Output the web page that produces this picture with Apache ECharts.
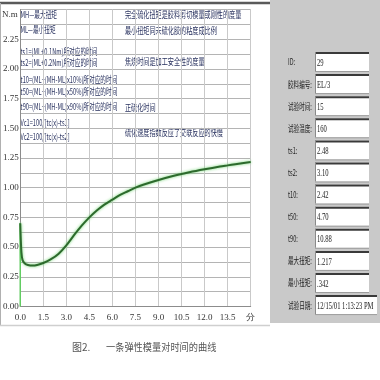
<!DOCTYPE html>
<html><head><meta charset="utf-8">
<script src="https://cdn.jsdelivr.net/npm/echarts@6/dist/echarts.min.js"></script>
<style>html,body{margin:0;padding:0;background:#fff}#c{width:380px;height:380px}</style>
</head><body><div id="c"></div>
<script>
// ---- data ----
const startT = [0, 0];
const startV = [0, 0.70];
const curveT = [0.0, 0.03, 0.08, 0.15, 0.3, 0.5, 0.8, 1.1, 1.5, 2.0, 2.5, 3.0, 3.5, 4.0, 4.5, 5.0, 5.5, 6.0, 6.5, 7.0, 7.5, 8.0, 9.0, 10.0, 10.5, 11.0, 12.0, 13.0, 13.5, 14.0, 15.0];
const curveV = [0.70, 0.58, 0.45, 0.39, 0.362, 0.35, 0.345, 0.35, 0.366, 0.398, 0.445, 0.515, 0.60, 0.68, 0.75, 0.81, 0.86, 0.90, 0.94, 0.97, 1.00, 1.025, 1.065, 1.10, 1.115, 1.13, 1.155, 1.178, 1.188, 1.198, 1.217];
const xTickLabels = ['0.0','1.5','3.0','4.5','6.0','7.5','9.0','10.5','12.0','13.5','分'];
const yUnit = 'N.m';
const notesLeft = ['MH—最大扭矩','ML—最小扭矩','ts1=(ML+0.1Nm)所对应的时间','ts2=(ML+0.2Nm)所对应的时间','t10=(ML+(MH-ML)x10%)所对应的时间','t50=(ML+(MH-ML)x50%)所对应的时间','t90=(ML+(MH-ML)x90%)所对应的时间','Vc1=100/[tc(x)-ts1]','Vc2=100/[tc(x)-ts2]'];
const notesLeftY = [15, 29.5, 51.5, 63, 79.5, 92, 106.5, 123, 136.5];
const notesRight = ['完全硫化扭矩是胶料剪切模量或刚性的度量','最小扭矩同未硫化胶的粘度成比例','焦烧时间是加工安全性的度量','正硫化时间','硫化速度指数反应了交联反应的快慢'];
const notesRightY = [15, 31, 61.5, 108, 132.5];
const panelLabels = ['ID:','胶料编号:','试验时间:','试验温度:','ts1:','ts2:','t10:','t50:','t90:','最大扭矩:','最小扭矩:','试验日期:'];
const panelValues = ['29','EL/3','15','160','2.48','3.10','2.42','4.70','10.88','1.217','.342','12/15/01 1:13:23 PM'];
const caption = ['图2.', '一条弹性模量对时间的曲线'];

// ---- chart ----
const chart = echarts.init(document.getElementById('c'), null, {renderer:'canvas'});
const numFont = 'Liberation Serif';
const cjkFont = 'Noto Sans CJK SC';
const g = [];
// frame
g.push({type:'rect', shape:{x:270,y:0,width:110,height:323}, style:{fill:'#c9c9c9'}, z:-1});
g.push({type:'line', shape:{x1:0,y1:3,x2:270,y2:3}, style:{stroke:'#5a5a5a',lineWidth:2.5}});
g.push({type:'line', shape:{x1:0.5,y1:3,x2:0.5,y2:326}, style:{stroke:'#b0b0b0',lineWidth:1}});
g.push({type:'line', shape:{x1:0,y1:325.5,x2:270,y2:325.5}, style:{stroke:'#cfcfcf',lineWidth:1.5}});
// unit
g.push({type:'text', x:2, y:15, style:{text:yUnit, font:'9px '+numFont, fill:'#333', verticalAlign:'middle'}});
// notes
notesLeft.forEach((t,i)=>{
  g.push({type:'text', x:20.5, y:notesLeftY[i], scaleX:0.63, style:{text:t, font:'9px '+cjkFont, fill:'#27305e', verticalAlign:'middle'}});
});
notesRight.forEach((t,i)=>{
  g.push({type:'text', x:125, y:notesRightY[i], scaleX:0.68, style:{text:t, font:'9px '+cjkFont, fill:'#27305e', verticalAlign:'middle'}});
});
// panel
panelLabels.forEach((t,i)=>{
  const top = 52 + i*22.1;
  const right = (i === panelLabels.length-1) ? 377 : 369;
  g.push({type:'rect', shape:{x:315,y:top,width:right-315,height:19}, style:{fill:'#ffffff'}});
  g.push({type:'line', shape:{x1:315,y1:top+1,x2:right,y2:top+1}, style:{stroke:'#3a3a3a',lineWidth:2}});
  g.push({type:'line', shape:{x1:315.5,y1:top,x2:315.5,y2:top+19}, style:{stroke:'#8a8a8a',lineWidth:1}});
  g.push({type:'line', shape:{x1:315,y1:top+19.5,x2:right,y2:top+19.5}, style:{stroke:'#9d9d9d',lineWidth:1}});
  g.push({type:'text', x:288, y:top+10, scaleX:0.62, style:{text:t, font:'9px '+cjkFont, fill:'#222', verticalAlign:'middle'}});
  g.push({type:'text', x:317, y:top+11, scaleX:0.66, style:{text:panelValues[i], font:'10px '+numFont, fill:'#222', verticalAlign:'middle'}});
});
// caption
g.push({type:'text', x:72, y:347, style:{text:caption[0], font:'10px '+cjkFont, fill:'#555', verticalAlign:'middle'}});
g.push({type:'text', x:106, y:347, scaleX:0.92, style:{text:caption[1], font:'10px '+cjkFont, fill:'#555', verticalAlign:'middle'}});

chart.setOption({
  animation:false,
  backgroundColor:'#ffffff',
  grid:{left:16.7, top:9.5, width:234, height:297, containLabel:false},
  xAxis:{type:'value', min:0, max:15, interval:1.5,
    axisLine:{show:true, lineStyle:{color:'#8c8c8c', width:1}},
    axisTick:{show:false},
    axisLabel:{margin:7, fontFamily:numFont, fontSize:9, color:'#333',
      formatter:(v)=>{const i=Math.round(v/1.5); return xTickLabels[i]!==undefined?xTickLabels[i]:'';}},
    splitLine:{show:true, lineStyle:{color:'#c9c9c9', width:1}}},
  yAxis:{type:'value', min:0, max:2.5, interval:0.25,
    axisLine:{show:true, lineStyle:{color:'#8c8c8c', width:1}},
    axisTick:{show:false},
    axisLabel:{margin:1.5, fontFamily:numFont, fontSize:9, color:'#333',
      formatter:(v)=> v>=2.5 ? '' : v.toFixed(2)},
    splitLine:{show:true, lineStyle:{color:'#b4b4b4', width:1}},
    minorTick:{show:false, splitNumber:2},
    minorSplitLine:{show:true, lineStyle:{color:'#b4b4b4', width:1}}},
  series:[
    {type:'line', data:startT.map((t,i)=>[t,startV[i]]), symbol:'none', lineStyle:{color:'#62cc62', width:1.5}, z:3},
    {type:'line', data:curveT.map((t,i)=>[t,curveV[i]]), symbol:'none', smooth:0.3,
      lineStyle:{color:'#2d6a2d', width:2, shadowColor:'rgba(100,210,100,0.95)', shadowBlur:3}, z:4}
  ],
  graphic:g
});
</script></body></html>
